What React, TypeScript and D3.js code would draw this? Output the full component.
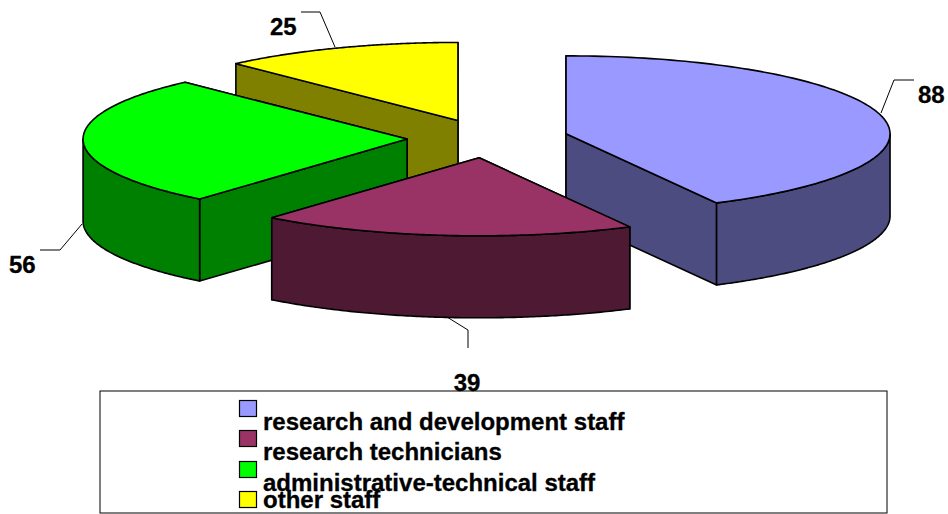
import React from "react";
import * as d3 from "d3";

const categories = ["research and development staff", "research technicians", "administrative-technical staff", "other staff"];
const values = [88, 39, 56, 25];
const topColors = ["#9999FF", "#993366", "#00FF00", "#FFFF00"];
const sideColors = ["#4C4C80", "#4D1933", "#008000", "#808000"];
const drawOrder = [3, 2, 0, 1];
const legendSwatchY = [400, 430, 461, 491];
const legendTextY = [430, 460, 491, 508];
const valueLabels = [
  { x: 918, y: 103, anchor: "start", leader: [[881, 113], [894, 80], [914, 80]] },
  { x: 467, y: 391, anchor: "middle", leader: [[447, 317], [468, 330], [468, 348]] },
  { x: 9, y: 273, anchor: "start", leader: [[82, 224], [60, 250], [40, 250]] },
  { x: 270, y: 35, anchor: "start", leader: [[335, 47], [320, 12], [301, 12]] },
];

const cx = 487.7, cy = 138.5, rx = 324, ry = 78, depth = 82, explode = 0.249;
const FONT = "'Liberation Sans', Arial, sans-serif";

const sx = d3.scaleLinear().domain([-1, 1]).range([cx - rx, cx + rx]);
const sy = d3.scaleLinear().domain([-1, 1]).range([cy - ry, cy + ry]);

type P = [number, number];
const pieGen = d3.pie<number>().sort(null).startAngle(0).endAngle(2 * Math.PI);
const arcs = pieGen(values);
const line = d3.line<P>();
const closed = (pts: P[]) => line(pts) + "Z";

export default function App() {
  return (
    <svg width={948} height={514} style={{ position: "absolute", left: 0, top: 0, display: "block" }}>
      <rect x={0} y={0} width={948} height={514} fill="#fff" />
      <rect x={100} y={391} width={787} height={122} fill="#fff" stroke="#000" strokeWidth={1} />
      {drawOrder.map((i) => {
        const a = arcs[i];
        const mid = (a.startAngle + a.endAngle) / 2;
        const ox = explode * Math.sin(mid);
        const oy = explode * -Math.cos(mid);
        const pt = (t: number, r = 1): P => [sx(ox + r * Math.sin(t)), sy(oy - r * Math.cos(t))];
        const down = (p: P): P => [p[0], p[1] + depth];
        const apex = pt(0, 0);
        const rim = d3.range(0, 121).map((k) => pt(a.startAngle + ((a.endAngle - a.startAngle) * k) / 120));
        const faces = [rim[0], rim[rim.length - 1]].sort((p, q) => p[1] - q[1]);
        const w0 = Math.max(a.startAngle, Math.PI / 2);
        const w1 = Math.min(a.endAngle, (3 * Math.PI) / 2);
        const wallTop = w1 > w0 ? d3.range(0, 121).map((k) => pt(w0 + ((w1 - w0) * k) / 120)) : [];
        const wall = wallTop.length ? [...wallTop, ...wallTop.slice().reverse().map(down)] : [];
        return (
          <g key={categories[i]} stroke="#000" strokeWidth={1.6} strokeLinejoin="round">
            {faces.map((f, k) => (
              <path key={k} d={closed([apex, f, down(f), down(apex)])} fill={sideColors[i]} />
            ))}
            {wall.length > 0 && <path d={closed(wall)} fill={sideColors[i]} />}
            <path d={closed([apex, ...rim])} fill={topColors[i]} />
          </g>
        );
      })}
      {valueLabels.map((l, i) => (
        <g key={values[i]}>
          <path d={line(l.leader as P[]) as string} fill="none" stroke="#000" strokeWidth={1} />
          <text x={l.x} y={l.y} textAnchor={l.anchor as any} fontFamily={FONT} fontWeight="bold" fontSize={24} fill="#000" stroke="#000" strokeWidth={0.3}>
            {values[i]}
          </text>
        </g>
      ))}
      {categories.map((c, i) => (
        <g key={c}>
          <rect x={239.5} y={legendSwatchY[i] + 0.5} width={17} height={16} fill={topColors[i]} stroke="#000" strokeWidth={1.2} />
          <text x={263} y={legendTextY[i]} fontFamily={FONT} fontWeight="bold" fontSize={24} fill="#000" stroke="#000" strokeWidth={0.3}>
            {c}
          </text>
        </g>
      ))}
    </svg>
  );
}
